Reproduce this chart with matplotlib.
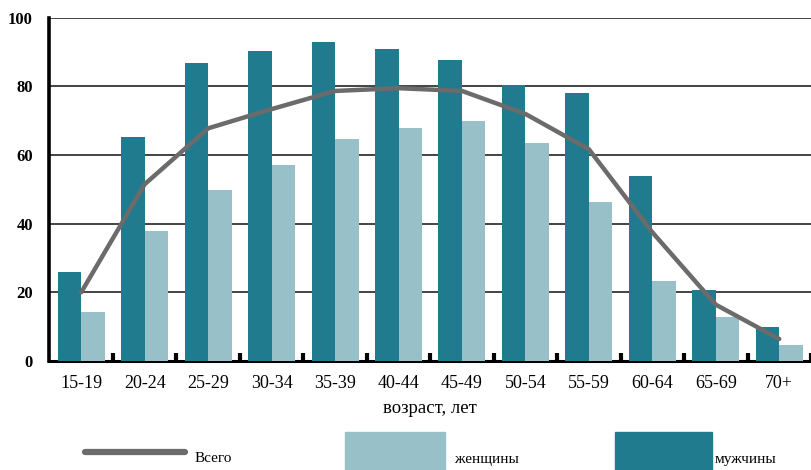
import numpy as np
import matplotlib
matplotlib.use("Agg")
import matplotlib.pyplot as plt
from matplotlib.lines import Line2D
from matplotlib.patches import Rectangle

plt.rcParams['font.family'] = ['Liberation Serif', 'DejaVu Serif']

ages = ["15-19", "20-24", "25-29", "30-34", "35-39", "40-44",
        "45-49", "50-54", "55-59", "60-64", "65-69", "70+"]
men = [26, 65.2, 86.8, 90.3, 93, 90.9, 87.7, 80.4, 78, 53.8, 20.8, 10]
women = [14.3, 37.8, 49.7, 57, 64.6, 67.8, 69.9, 63.5, 46.2, 23.4, 12.7, 4.7]
total = [20, 51.5, 67.8, 73.4, 78.7, 79.5, 78.7, 72, 61.7, 37.5, 16.4, 6.4]
legend_labels = ["Всего", "женщины", "мужчины"]

dark = "#217b8f"
light = "#97c0c9"
grey = "#6b6b6b"

W, H = 811, 470
fig = plt.figure(figsize=(W / 100, H / 100), dpi=100)
ax = fig.add_axes([0.061, 0.232, 0.939, 0.730])

x = np.arange(len(ages))
w = 0.37
ax.bar(x - w / 2, men, w, color=dark, zorder=3)
ax.bar(x + w / 2, women, w, color=light, zorder=3)
ax.plot(x, total, color=grey, lw=3.2, zorder=4, solid_capstyle='round')

ax.set_ylim(0, 100)
ax.set_xlim(-0.5, 11.44)
ax.set_yticks(range(0, 101, 20))
ax.yaxis.grid(True, color="#111111", lw=1.1, zorder=1)
ax.set_axisbelow(True)

for s in ['top', 'right']:
    ax.spines[s].set_visible(False)
ax.spines['left'].set_linewidth(2.6)
ax.spines['bottom'].set_linewidth(2.2)

ax.set_xticks(x + 0.5, minor=True)
ax.set_xticks(x)
ax.set_xticklabels(ages, fontsize=13)
ax.tick_params(axis='x', which='major', length=0, pad=10)
ax.tick_params(axis='x', which='minor', direction='in', length=6, width=3)
ax.tick_params(axis='y', length=0, labelsize=12, pad=12)
for lab in ax.get_yticklabels():
    lab.set_fontweight('bold')

ax.set_xlabel("возраст, лет", fontsize=13.5, labelpad=6)

# legend drawn in figure pixels
def px(xp, yp):
    return xp / W, 1 - yp / H

fig.add_artist(Line2D([85 / W, 185 / W], [1 - 452 / H] * 2, color=grey,
                      lw=4.5, solid_capstyle='round'))
fig.text(*px(195, 459), legend_labels[0], fontsize=11, va='center')
x0, y0 = px(345, 470)
fig.add_artist(Rectangle((x0, y0), 100 / W, 38 / H, color=light))
fig.text(*px(455, 459), legend_labels[1], fontsize=11, va='center')
x0, y0 = px(615, 470)
fig.add_artist(Rectangle((x0, y0), 97 / W, 38 / H, color=dark))
fig.text(*px(715, 459), legend_labels[2], fontsize=11, va='center')

fig.savefig("out.png", dpi=100)
